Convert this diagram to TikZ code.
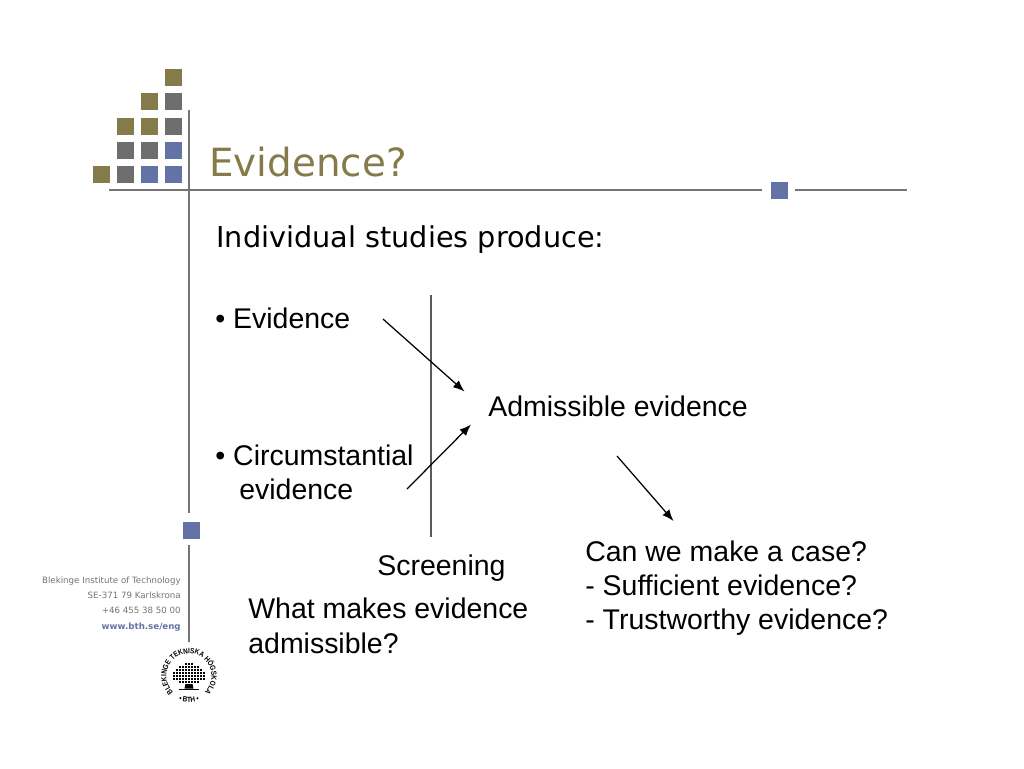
\documentclass[tikz,border=0pt]{standalone}
\usepackage{fontspec}
\setmainfont{Liberation Sans}
\newfontfamily\verdanafont{DejaVu Sans}
\newfontfamily\sealfont[FakeStretch=0.85]{Liberation Sans}
\usetikzlibrary{arrows.meta,decorations.text}
\definecolor{bthgold}{HTML}{857B4A}
\definecolor{bthgrey}{HTML}{6E6E6E}
\definecolor{bthblue}{HTML}{6373A6}
\definecolor{bthrule}{HTML}{757575}
\tikzset{
	bodytext/.style={anchor=base west, inner sep=0pt, font=\fontsize{16.2}{19.3}\selectfont, align=left},
	footertext/.style={anchor=base east, inner sep=0pt, text=black!55, font=\verdanafont\fontsize{4.93}{6}\selectfont},
	rulegrey/.style={draw=bthrule, line width=0.27mm},
	pointer/.style={-{Latex[length=2.3mm,width=1.8mm]}, line width=0.25mm, black},
}
\newcommand{\tile}[3]{\fill[#1] (#2, #3) rectangle ++(16.5, 16.5);}
\begin{document}
\begin{tikzpicture}[x=0.02cm, y=-0.02cm]
	\useasboundingbox (0, 0) rectangle (1024, 768);
	
	% logo squares
	\tile{bthgold}{165}{69}
	\tile{bthgold}{141}{93}
	\tile{bthgrey}{165}{93}
	\tile{bthgold}{117}{118}
	\tile{bthgold}{141}{118}
	\tile{bthgrey}{165}{118}
	\tile{bthgrey}{117}{142}
	\tile{bthgrey}{141}{142}
	\tile{bthblue}{165}{142}
	\tile{bthgold}{93}{166}
	\tile{bthgrey}{117}{166}
	\tile{bthblue}{141}{166}
	\tile{bthblue}{165}{166}
	
	% frame rules
	\draw[rulegrey] (109, 190) -- (762, 190);
	\draw[rulegrey] (795, 190) -- (907, 190);
	\draw[rulegrey] (189, 110) -- (189, 513);
	\draw[rulegrey] (189, 545) -- (189, 642);
	\tile{bthblue}{771}{182}
	\tile{bthblue}{183}{522}
	
	% heading
	\node[anchor=base west, inner sep=0pt, text=bthgold, font=\verdanafont\fontsize{22.1}{26}\selectfont] (title) at (209, 176) {Evidence?};
	\node[anchor=base west, inner sep=0pt, font=\verdanafont\fontsize{16.35}{19}\selectfont] (intro) at (216, 247) {Individual studies produce:};
	
	% footer
	\node[footertext] (school) at (181, 583) {Blekinge Institute of Technology};
	\node[footertext] (city) at (181, 598) {SE-371 79 Karlskrona};
	\node[footertext] (phone) at (181, 613) {+46 455 38 50 00};
	\node[footertext, text=bthblue, font=\verdanafont\bfseries\fontsize{4.93}{6}\selectfont] (web) at (181, 629) {www.bth.se/eng};
	
	% seal
	\begin{scope}[shift={(189, 676)}, y=0.02cm]
		\path[decorate, decoration={text along path, text align=center, text={|\sealfont\bfseries\fontsize{4.3}{5}\selectfont|BLEKINGE TEKNISKA HÖGSKOLA}}] (235:22.5) arc (235:-55:22.5);
		\path[decorate, decoration={text along path, text align=center, text={|\sealfont\bfseries\fontsize{4.3}{5}\selectfont|•  BTH  •}}] (230:26.5) arc (230:310:26.5);
		\foreach \rowy/\rowhalf in {12/1, 9/3, 6/4, 3/5, 0/5, -3/5, -6/3}{
			\foreach \k in {-\rowhalf, ..., \rowhalf}{
				\fill[black] ({\k*3-1.2}, {\rowy-1.2}) rectangle ++(2.4, 2.4);
			}
		}
		\fill[black] (-3.5, -8) -- (3.5, -8) -- (4.5, -12.5) -- (-4.5, -12.5) -- cycle;
		\fill[black] (-10, -13) rectangle (10, -14);
	\end{scope}
	
	% slide text
	\node[bodytext] (evidence) at (215, 328) {• Evidence};
	\node[bodytext] (circumstantial) at (215, 465) {• Circumstantial};
	\node[bodytext] (circumstantialb) at (239, 499) {evidence};
	\node[bodytext] (admissible) at (488, 416) {Admissible evidence};
	\node[bodytext] (screening) at (377, 575) {Screening};
	\node[bodytext] (makes) at (248, 618) {What makes evidence};
	\node[bodytext] (makesb) at (248, 653) {admissible?};
	\node[bodytext] (case) at (585, 561) {Can we make a case?};
	\node[bodytext] (sufficient) at (585, 595) {- Sufficient evidence?};
	\node[bodytext] (trustworthy) at (585, 629) {- Trustworthy evidence?};
	
	% screening line and arrows
	\coordinate (screentop) at (431, 295);
	\coordinate (screenbottom) at (431, 537);
	\coordinate (evidenceout) at (383, 319);
	\coordinate (evidencein) at (464.5, 391.5);
	\coordinate (circumout) at (407, 489);
	\coordinate (circumin) at (471, 424.5);
	\coordinate (caseout) at (617, 456);
	\coordinate (casein) at (673.5, 521);
	
	\draw[draw=black!65, line width=0.27mm] (screentop) -- (screenbottom);
	\draw[pointer] (evidenceout) -- (evidencein);
	\draw[pointer] (circumout) -- (circumin);
	\draw[pointer] (caseout) -- (casein);
\end{tikzpicture}
\end{document}
